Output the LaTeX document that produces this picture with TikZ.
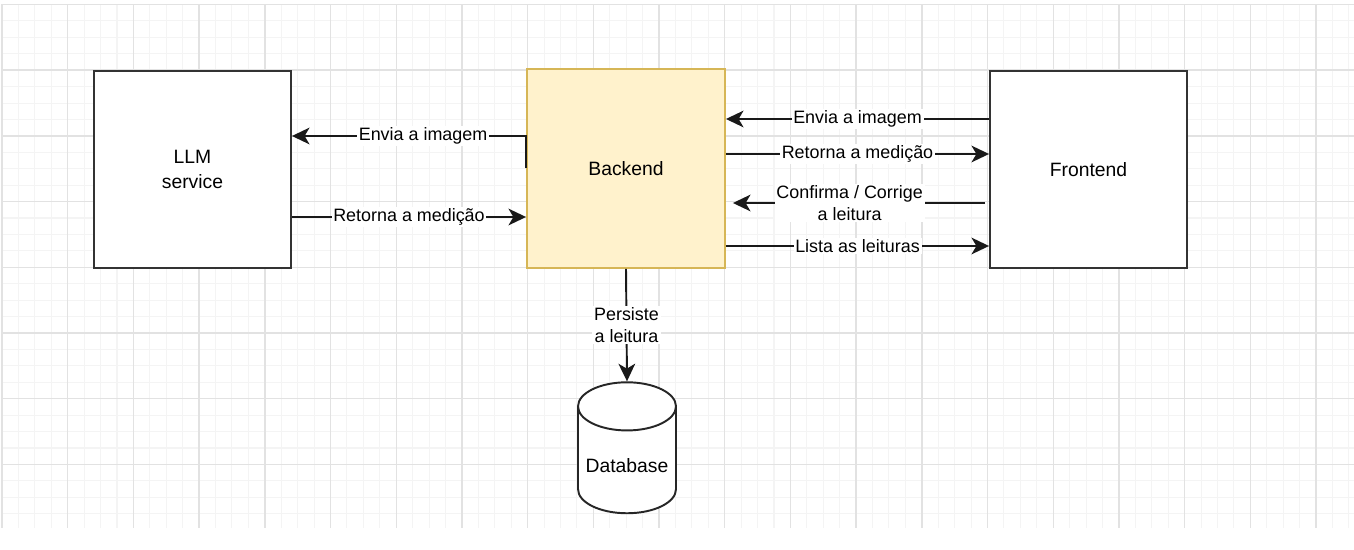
\documentclass[tikz,border=0pt]{standalone}
\usepackage{fontspec}
\setmainfont{Liberation Sans}
\usetikzlibrary{arrows.meta, shapes.geometric}
\definecolor{bkfill}{HTML}{FFF2CC}
\definecolor{bkline}{HTML}{D6B656}
\definecolor{gridmin}{HTML}{F4F4F4}
\definecolor{gridmaj}{HTML}{E2E2E2}
\tikzset{
  boxnode/.style = {rectangle, draw=black!80, line width=1.1pt, fill=white, align=center, minimum width=3.94cm, minimum height=3.94cm, font=\fontsize{11}{14.2}\selectfont},
  backnode/.style = {boxnode, draw=bkline, fill=bkfill, minimum width=3.96cm, minimum height=3.98cm},
  dbnode/.style = {cylinder, shape border rotate=90, draw=black!85, line width=1.1pt, fill=white, aspect=0.51, minimum width=1.96cm, minimum height=2.62cm, font=\fontsize{11}{14.2}\selectfont},
  flow/.style = {-{Stealth[length=10pt, width=9.5pt, inset=2.8pt]}, line width=1.1pt, black!90},
  lbl/.style = {fill=white, text=black, inner sep=1pt, align=center, font=\fontsize{10.2}{12.5}\selectfont}
}

\begin{document}
\begin{tikzpicture}[x=0.02cm, y=-0.02cm]
    \useasboundingbox (0,0) rectangle (1354,550);
    % grid
    \foreach \i in {0,...,82}
        \draw[gridmin, line width=0.6pt] ({2+16.425*\i},4.5) -- ({2+16.425*\i},528);
    \foreach \j in {0,...,31}
        \draw[gridmin, line width=0.6pt] (2,{4.5+16.425*\j}) -- (1354,{4.5+16.425*\j});
    \foreach \i in {0,...,20}
        \draw[gridmaj, line width=0.8pt] ({2+65.7*\i},4.5) -- ({2+65.7*\i},528);
    \foreach \j in {0,...,7}
        \draw[gridmaj, line width=0.8pt] (2,{4.5+65.7*\j}) -- (1354,{4.5+65.7*\j});

    % nodes
    \node[boxnode] (llm) at (192.5,169.5) {LLM\\service};
    \node[backnode] (be) at (626,168.5) {Backend};
    \node[boxnode] (fe) at (1088.5,169.5) {Frontend};
    \node[dbnode] (db) at (627,466) {Database};

    % connectors
    \draw[flow] (be.west) -- (be.west |- 0,136) -- node[lbl, pos=0.44]{Envia a imagem} (llm.east |- 0,136);
    \draw[flow] (llm.east |- 0,217) -- node[lbl]{Retorna a medição} (be.west |- 0,217);
    \draw[flow] (fe.west |- 0,119) -- node[lbl]{Envia a imagem} (be.east |- 0,119);
    \draw[flow] (be.east |- 0,154) -- node[lbl]{Retorna a medição} (fe.west |- 0,154);
    \draw[flow, shorten <=0.08cm, shorten >=0.14cm] (fe.west |- 0,203) -- node[lbl, pos=0.53]{Confirma / Corrige\\a leitura} (be.east |- 0,203);
    \draw[flow] (be.east |- 0,246) -- node[lbl]{Lista as leituras} (fe.west |- 0,246);
    \draw[flow] (be.south) -- node[lbl]{Persiste\\a leitura} (db.north);
\end{tikzpicture}
\end{document}
